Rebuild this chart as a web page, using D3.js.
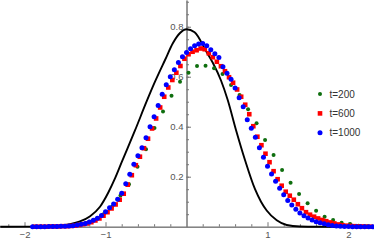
<!DOCTYPE html>
<html>
<head>
<meta charset="utf-8">
<script src="https://cdn.jsdelivr.net/npm/d3@7"></script>
<style>
  body { margin: 0; background: #fff; }
  svg { display: block; font-family: "Liberation Sans", Arial, sans-serif; }
  .tick text { fill: #555; font-size: 9.5px; }
  .axis path, .axis line { stroke: #777; }
</style>
</head>
<body>
<div id="chart"></div>
<script>
// limit distribution (black curve)
const curveX = [-2.3, -1.8, -1.6, -1.44, -1.315, -1.19, -1.068, -0.965, -0.88, -0.8, -0.636, -0.491, -0.389, -0.265, -0.167, -0.08, 0, 0.1, 0.241, 0.323, 0.426, 0.509, 0.611, 0.722, 0.846, 0.92, 0.99, 1.114, 1.237, 1.4, 1.6, 2.3];
const curveY = [0, 0.0005, 0.003, 0.01, 0.021, 0.042, 0.08, 0.137, 0.195, 0.258, 0.385, 0.502, 0.58, 0.667, 0.735, 0.775, 0.79, 0.778, 0.703, 0.657, 0.585, 0.507, 0.387, 0.267, 0.15, 0.1, 0.065, 0.026, 0.007, 0.001, 0, 0];

// t=200
const x200 = [-1.865, -1.76, -1.655, -1.55, -1.445, -1.34, -1.235, -1.13, -1.025, -0.92, -0.815, -0.71, -0.605, -0.5, -0.395, -0.29, -0.185, -0.08, 0.025, 0.13, 0.235, 0.34, 0.445, 0.55, 0.655, 0.76, 0.865, 0.97, 1.075, 1.18, 1.285, 1.39, 1.495, 1.6, 1.705, 1.81, 1.915, 2.02, 2.125, 2.23];
const y200 = [0, 0, 0.001, 0.002, 0.003, 0.007, 0.014, 0.028, 0.05, 0.08, 0.125, 0.17, 0.24, 0.31, 0.395, 0.461, 0.524, 0.58, 0.616, 0.643, 0.644, 0.634, 0.611, 0.567, 0.527, 0.47, 0.414, 0.347, 0.287, 0.227, 0.176, 0.131, 0.094, 0.064, 0.04, 0.027, 0.016, 0.011, 0.004, 0.002];

// t=600
const x600 = [-1.875, -1.825, -1.775, -1.725, -1.675, -1.625, -1.575, -1.525, -1.475, -1.425, -1.375, -1.325, -1.275, -1.225, -1.175, -1.125, -1.075, -1.025, -0.975, -0.925, -0.875, -0.825, -0.775, -0.725, -0.675, -0.625, -0.575, -0.525, -0.475, -0.425, -0.375, -0.325, -0.275, -0.225, -0.175, -0.125, -0.075, -0.025, 0.025, 0.075, 0.125, 0.175, 0.225, 0.275, 0.325, 0.375, 0.425, 0.475, 0.525, 0.575, 0.625, 0.675, 0.725, 0.775, 0.825, 0.875, 0.925, 0.975, 1.025, 1.075, 1.125, 1.175, 1.225, 1.275, 1.325, 1.375, 1.425, 1.475, 1.525, 1.575, 1.625, 1.675, 1.725, 1.775, 1.825, 1.875, 1.925, 1.975, 2.025, 2.075, 2.125, 2.175, 2.225, 2.275];
const y600 = [0, 0, 0, 0, 0.001, 0.001, 0.001, 0.002, 0.002, 0.003, 0.004, 0.007, 0.01, 0.013, 0.018, 0.025, 0.033, 0.044, 0.058, 0.073, 0.089, 0.108, 0.132, 0.168, 0.206, 0.246, 0.28, 0.314, 0.352, 0.393, 0.433, 0.477, 0.52, 0.557, 0.587, 0.616, 0.643, 0.672, 0.69, 0.7, 0.706, 0.713, 0.71, 0.694, 0.678, 0.66, 0.642, 0.622, 0.598, 0.576, 0.549, 0.52, 0.488, 0.45, 0.402, 0.36, 0.326, 0.292, 0.258, 0.222, 0.19, 0.164, 0.14, 0.124, 0.108, 0.09, 0.074, 0.058, 0.048, 0.04, 0.033, 0.027, 0.022, 0.017, 0.013, 0.009, 0.006, 0.004, 0.003, 0.002, 0.001, 0.001, 0, 0];

// t=1000
const x1000 = [-1.9, -1.85, -1.8, -1.75, -1.7, -1.65, -1.6, -1.55, -1.5, -1.45, -1.4, -1.35, -1.3, -1.25, -1.2, -1.15, -1.1, -1.05, -1, -0.95, -0.9, -0.85, -0.8, -0.75, -0.7, -0.65, -0.6, -0.55, -0.5, -0.45, -0.4, -0.35, -0.3, -0.25, -0.2, -0.15, -0.1, -0.05, 0, 0.05, 0.1, 0.15, 0.2, 0.25, 0.3, 0.35, 0.4, 0.45, 0.5, 0.55, 0.6, 0.65, 0.7, 0.75, 0.8, 0.85, 0.9, 0.95, 1, 1.05, 1.1, 1.15, 1.2, 1.25, 1.3, 1.35, 1.4, 1.45, 1.5, 1.55, 1.6, 1.65, 1.7, 1.75, 1.8, 1.85, 1.9, 1.95, 2, 2.05, 2.1, 2.15, 2.2, 2.25, 2.3];
const y1000 = [0, 0, 0, 0, 0.001, 0.001, 0.001, 0.002, 0.002, 0.003, 0.004, 0.007, 0.01, 0.013, 0.019, 0.026, 0.034, 0.045, 0.06, 0.076, 0.091, 0.11, 0.134, 0.172, 0.21, 0.25, 0.284, 0.316, 0.356, 0.4, 0.44, 0.485, 0.53, 0.568, 0.6, 0.628, 0.657, 0.68, 0.697, 0.712, 0.724, 0.731, 0.733, 0.724, 0.708, 0.692, 0.677, 0.64, 0.614, 0.59, 0.555, 0.516, 0.48, 0.428, 0.394, 0.358, 0.316, 0.278, 0.242, 0.211, 0.182, 0.154, 0.128, 0.105, 0.087, 0.07, 0.055, 0.044, 0.035, 0.027, 0.02, 0.016, 0.012, 0.008, 0.005, 0.003, 0.002, 0.001, 0.001, 0, 0, 0, 0, 0, 0];

const legendNames = ['t=200', 't=600', 't=1000'];
const xTickValues = [-2, -1, 1, 2];
const yTickValues = [0.2, 0.4, 0.6, 0.8];

const w = 374;
const h = 240;

const xScale = d3.scaleLinear().domain([-2.3, 2.3]).range([0.2, 372.8]);
const yScale = d3.scaleLinear().domain([0, 0.907]).range([226.7, 0]);

const svg = d3.select('#chart')
              .append('svg')
              .attr('width', w)
              .attr('height', h);

// minor ticks
const xMinor = d3.range(-22, 24, 2).map(d => d / 10).filter(d => Math.abs(d % 1) > 0.01);
const yMinor = d3.range(1, 19).map(d => d * 0.05);

svg.append('g')
   .attr('class', 'axis')
   .attr('transform', `translate(0, ${yScale(0)})`)
   .call(d3.axisBottom(xScale).tickValues(xMinor).tickSizeInner(-2.5).tickSizeOuter(0).tickFormat(''));

svg.append('g')
   .attr('class', 'axis')
   .attr('transform', `translate(0, ${yScale(0)})`)
   .call(d3.axisBottom(xScale).tickValues(xTickValues).tickSizeInner(-4.5).tickSizeOuter(0)
           .tickPadding(5).tickFormat(d3.format('d')));

svg.append('g')
   .attr('class', 'axis')
   .attr('transform', `translate(${xScale(0)}, 0)`)
   .call(d3.axisLeft(yScale).tickValues(yMinor).tickSizeInner(-2.5).tickSizeOuter(0).tickFormat(''));

svg.append('g')
   .attr('class', 'axis')
   .attr('transform', `translate(${xScale(0)}, 0)`)
   .call(d3.axisLeft(yScale).tickValues(yTickValues).tickSizeInner(-4.5).tickSizeOuter(0)
           .tickPadding(3).tickFormat(d3.format('.1f')));

// black curve
const line = d3.line()
               .x((d, i) => xScale(curveX[i]))
               .y(d => yScale(d))
               .curve(d3.curveMonotoneX);

svg.append('path')
   .datum(curveY)
   .attr('d', line)
   .attr('fill', 'none')
   .attr('stroke', '#000')
   .attr('stroke-width', 1.9);

// points
svg.append('g')
   .selectAll('circle')
   .data(y200)
   .enter()
   .append('circle')
   .attr('cx', (d, i) => xScale(x200[i]))
   .attr('cy', d => yScale(d))
   .attr('r', 2)
   .attr('fill', '#0e6e0e');

svg.append('g')
   .selectAll('rect')
   .data(y600)
   .enter()
   .append('rect')
   .attr('x', (d, i) => xScale(x600[i]) - 2.3)
   .attr('y', d => yScale(d) - 2.3)
   .attr('width', 4.6)
   .attr('height', 4.6)
   .attr('fill', '#f00');

svg.append('g')
   .selectAll('circle')
   .data(y1000)
   .enter()
   .append('circle')
   .attr('cx', (d, i) => xScale(x1000[i]))
   .attr('cy', d => yScale(d))
   .attr('r', 2.5)
   .attr('fill', '#00f');

// legend
const legend = svg.append('g')
                  .attr('transform', 'translate(320, 94)');

legendNames.forEach((name, i) => {
  const row = legend.append('g').attr('transform', `translate(0, ${i * 19.4})`);
  if (i === 0) {
    row.append('circle').attr('r', 2).attr('fill', '#0e6e0e');
  } else if (i === 1) {
    row.append('rect').attr('x', -2.3).attr('y', -2.3).attr('width', 4.6).attr('height', 4.6).attr('fill', '#f00');
  } else {
    row.append('circle').attr('r', 2.5).attr('fill', '#00f');
  }
  row.append('text')
     .attr('x', 9.5)
     .attr('dy', '0.35em')
     .attr('font-size', '10px')
     .attr('fill', '#333')
     .text(name);
});
</script>
</body>
</html>
